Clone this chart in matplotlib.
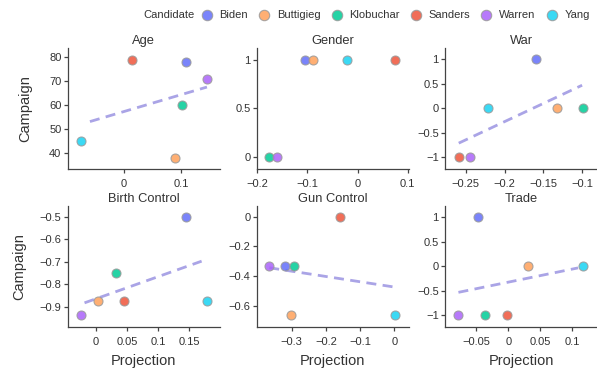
import numpy as np
import matplotlib
matplotlib.use('Agg')
import matplotlib.pyplot as plt
from matplotlib.ticker import FuncFormatter
from matplotlib.lines import Line2D

plt.rcParams['font.family'] = ['Liberation Sans', 'DejaVu Sans']

candidates = ['Biden', 'Buttigieg', 'Klobuchar', 'Sanders', 'Warren', 'Yang']
colors = ['#636EFA', '#FFA15A', '#00CC96', '#EF553B', '#AB63FA', '#19D3F3']

issues = ['Age', 'Gender', 'War', 'Birth Control', 'Gun Control', 'Trade']

# projection (x) and campaign (y) values, in candidate order
age_proj = [0.108, 0.088, 0.101, 0.014, 0.144, -0.073]
age_camp = [78, 38, 60, 79, 71, 45]
gender_proj = [-0.105, -0.089, -0.176, 0.075, -0.161, -0.021]
gender_camp = [1, 1, 0, 1, 0, 1]
war_proj = [-0.160, -0.132, -0.0985, -0.259, -0.2445, -0.221]
war_camp = [1, 0, 0, -1, -1, 0]
birth_proj = [0.145, 0.003, 0.032, 0.045, -0.024, 0.179]
birth_camp = [-0.5, -0.875, -0.75, -0.875, -0.9375, -0.875]
gun_proj = [-0.320, -0.302, -0.294, -0.160, -0.366, 0.003]
gun_camp = [-0.333, -0.667, -0.333, 0, -0.333, -0.667]
trade_proj = [-0.047, 0.031, -0.036, -0.0025, -0.078, 0.117]
trade_camp = [1, 0, -1, -1, -1, 0]

# x span of the fitted trend line (Gender has none)
trend_spans = [(-0.058, 0.144), None, (-0.259, -0.100),
               (-0.018, 0.170), (-0.366, 0.005), (-0.078, 0.109)]

x_ticks = [[0, 0.1], [-0.2, -0.1, 0, 0.1], [-0.25, -0.2, -0.15, -0.1],
           [0, 0.05, 0.1, 0.15], [-0.3, -0.2, -0.1, 0], [-0.05, 0, 0.05, 0.1]]
y_ticks = [[40, 50, 60, 70, 80], [0, 0.5, 1], [-1, -0.5, 0, 0.5, 1],
           [-0.9, -0.8, -0.7, -0.6, -0.5], [-0.6, -0.4, -0.2, 0], [-1, -0.5, 0, 0.5, 1]]
x_lims = [(-0.0964, 0.166), (-0.201, 0.102), (-0.2767, -0.0808),
          (-0.045, 0.199), (-0.4026, 0.042), (-0.099, 0.1386)]
y_lims = [(33.2, 83.75), (-0.122, 1.115), (-1.244, 1.224),
          (-0.991, -0.453), (-0.747, 0.072), (-1.245, 1.216)]

projections = [age_proj, gender_proj, war_proj, birth_proj, gun_proj, trade_proj]
campaigns = [age_camp, gender_camp, war_camp, birth_camp, gun_camp, trade_camp]

text_color = '#333333'
fmt = FuncFormatter(lambda v, p: ('%g' % v).replace('-', '\u2212'))

fig = plt.figure(figsize=(5.97, 3.70), dpi=100)

lefts = [0.1134, 0.430, 0.7454]
bottoms = [0.5424, 0.1154]
w, h = 0.2546, 0.327

for i, issue in enumerate(issues):
    row, col = divmod(i, 3)
    ax = fig.add_axes([lefts[col], bottoms[row], w, h])
    x = np.array(projections[i], dtype=float)
    y = np.array(campaigns[i], dtype=float)

    if trend_spans[i] is not None:
        slope, inter = np.polyfit(x, y, 1)
        xs = np.array(trend_spans[i])
        ax.plot(xs, slope * xs + inter, color='#aaa4e6', lw=2.0,
                ls=(0, (3.6, 2.3)), zorder=1, solid_capstyle='butt')

    for j in range(len(candidates)):
        ax.scatter(x[j], y[j], s=42, color=colors[j], alpha=0.85,
                   edgecolors='#9a9a9a', linewidths=0.8, zorder=3)

    ax.set_xlim(*x_lims[i])
    ax.set_ylim(*y_lims[i])
    ax.set_xticks(x_ticks[i])
    ax.set_yticks(y_ticks[i])
    ax.xaxis.set_major_formatter(fmt)
    ax.yaxis.set_major_formatter(fmt)
    for s in ['top', 'right']:
        ax.spines[s].set_visible(False)
    for s in ['left', 'bottom']:
        ax.spines[s].set_color('#444444')
        ax.spines[s].set_linewidth(0.9)
    ax.tick_params(axis='both', length=3, width=0.9, color='#444444',
                   labelsize=8, labelcolor=text_color)
    ax.tick_params(axis='x', pad=4)
    ax.tick_params(axis='y', pad=1.5)
    ax.set_title(issue, fontsize=9.3, color=text_color, pad=3)

    if col == 0:
        ax.set_ylabel('Campaign', fontsize=10.5, color=text_color)
        ax.yaxis.set_label_coords(-0.236 if row == 0 else -0.27, 0.5)
    if row == 1:
        ax.set_xlabel('Projection', fontsize=10.5, color=text_color)
        ax.xaxis.set_label_coords(0.5, -0.22)

handles = [Line2D([], [], ls='none', marker='o', markersize=7.5,
                  markerfacecolor=c, markeredgecolor='#9a9a9a',
                  markeredgewidth=0.8, alpha=0.85) for c in colors]
fig.legend(handles, candidates, ncol=6, loc='center left',
           bbox_to_anchor=(201 / 597, 1 - 15.5 / 370), frameon=False,
           fontsize=8, handlelength=1.0, handletextpad=0.65,
           columnspacing=0.95, borderpad=0, borderaxespad=0,
           labelcolor=text_color)
fig.text(195 / 597, 1 - 15.5 / 370, 'Candidate', ha='right', va='center',
         fontsize=8, color=text_color)

fig.savefig('out.png', dpi=100)
